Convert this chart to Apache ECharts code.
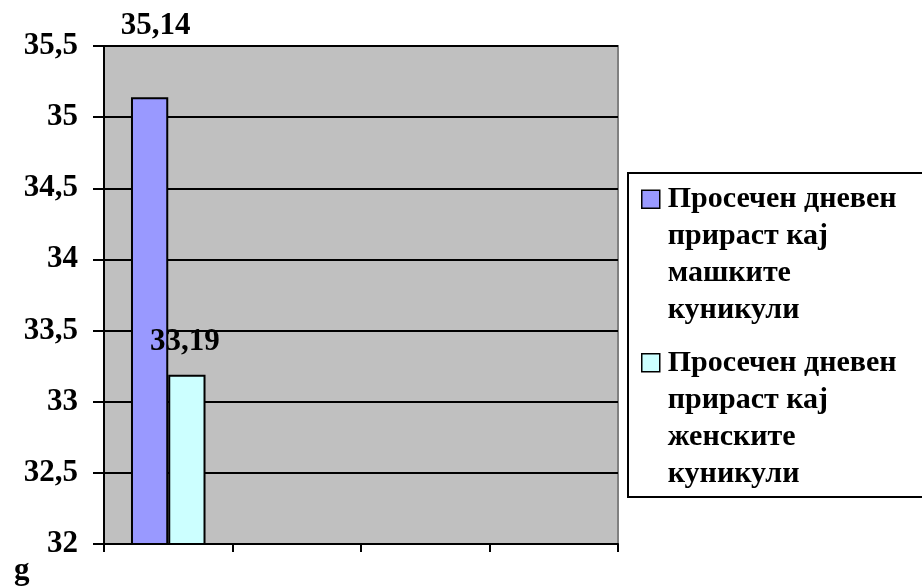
<!DOCTYPE html>
<html>
<head>
<meta charset="utf-8">
<script src="https://cdn.jsdelivr.net/npm/echarts@6/dist/echarts.min.js"></script>
<style>
  html, body { margin: 0; padding: 0; background: #ffffff; }
  #chart { width: 922px; height: 587px; }
</style>
</head>
<body>
<div id="chart"></div>
<script>
// Average daily weight gain of rabbits, males vs females
const categories = ['', '', '', ''];
const seriesNames = [
  'Просечен дневен\nприраст кај\nмашките\nкуникули',
  'Просечен дневен\nприраст кај\nженските\nкуникули'
];
const maleValues = [35.14, null, null, null];
const femaleValues = [33.19, null, null, null];
const yTicks = [32, 32.5, 33, 33.5, 34, 34.5, 35, 35.5];
const unitLabel = 'g';

const serif = "'Times New Roman', 'Liberation Serif', serif";
const fmt = v => String(v).replace('.', ',');

// Legend marker: square in the upper part of a tall box so it sits beside the first text line
const legendIcon = 'path://M0,0M0,9.5h18v18h-18zM18,148';

const chart = echarts.init(document.getElementById('chart'), null, { renderer: 'canvas' });

function withLabels(values, offsets, distances) {
  return values.map((v, i) => v === null ? '-' : {
    value: v,
    label: { offset: offsets[i], distance: distances[i] }
  });
}

chart.setOption({
  backgroundColor: '#ffffff',
  animation: false,
  title: {
    text: unitLabel,
    left: 9,
    top: 550,
    textStyle: { fontFamily: serif, fontSize: 31, fontWeight: 'bold', color: '#000' }
  },
  grid: {
    left: 104, right: 304, top: 46, bottom: 43,
    show: true,
    backgroundColor: '#c0c0c0',
    borderColor: '#808080',
    borderWidth: 2
  },
  legend: {
    orient: 'vertical',
    left: 628,
    top: 173,
    padding: [7, 300, 4, 13],
    borderColor: '#000',
    borderWidth: 2,
    backgroundColor: '#ffffff',
    itemWidth: 18,
    itemHeight: 148,
    itemGap: 14,
    icon: legendIcon,
    selectedMode: false,
    itemStyle: { borderColor: '#000', borderWidth: 1.5 },
    textStyle: {
      fontFamily: serif, fontSize: 30, fontWeight: 'bold', color: '#000',
      lineHeight: 37, padding: [0, 0, 0, 3]
    },
    data: seriesNames
  },
  xAxis: {
    type: 'category',
    data: categories,
    boundaryGap: true,
    axisLine: { lineStyle: { color: '#000', width: 2 } },
    axisTick: { show: true, length: 8, lineStyle: { color: '#000', width: 2 } },
    axisLabel: { show: false },
    splitLine: { show: false }
  },
  yAxis: {
    type: 'value',
    min: yTicks[0],
    max: yTicks[yTicks.length - 1],
    interval: 0.5,
    axisLine: { show: true, lineStyle: { color: '#000', width: 2 } },
    axisTick: { show: true, length: 11, lineStyle: { color: '#000', width: 2 } },
    axisLabel: {
      margin: 26,
      fontFamily: serif, fontSize: 31, fontWeight: 'bold', color: '#000',
      formatter: v => fmt(v)
    },
    splitLine: { show: true, lineStyle: { color: '#000', width: 2 } }
  },
  series: [
    {
      name: seriesNames[0],
      type: 'bar',
      data: withLabels(maleValues, [[6, 0]], [56]),
      barGap: 0,
      barCategoryGap: '42%',
      itemStyle: { color: '#9999ff', borderColor: '#000', borderWidth: 2 },
      label: {
        show: true, position: 'top',
        fontFamily: serif, fontSize: 31, fontWeight: 'bold', color: '#000',
        formatter: p => fmt(p.value)
      }
    },
    {
      name: seriesNames[1],
      type: 'bar',
      data: withLabels(femaleValues, [[-2, 0]], [17]),
      barGap: 0,
      barCategoryGap: '42%',
      itemStyle: { color: '#ccffff', borderColor: '#000', borderWidth: 2 },
      label: {
        show: true, position: 'top',
        fontFamily: serif, fontSize: 31, fontWeight: 'bold', color: '#000',
        formatter: p => fmt(p.value)
      }
    }
  ]
});
</script>
</body>
</html>
